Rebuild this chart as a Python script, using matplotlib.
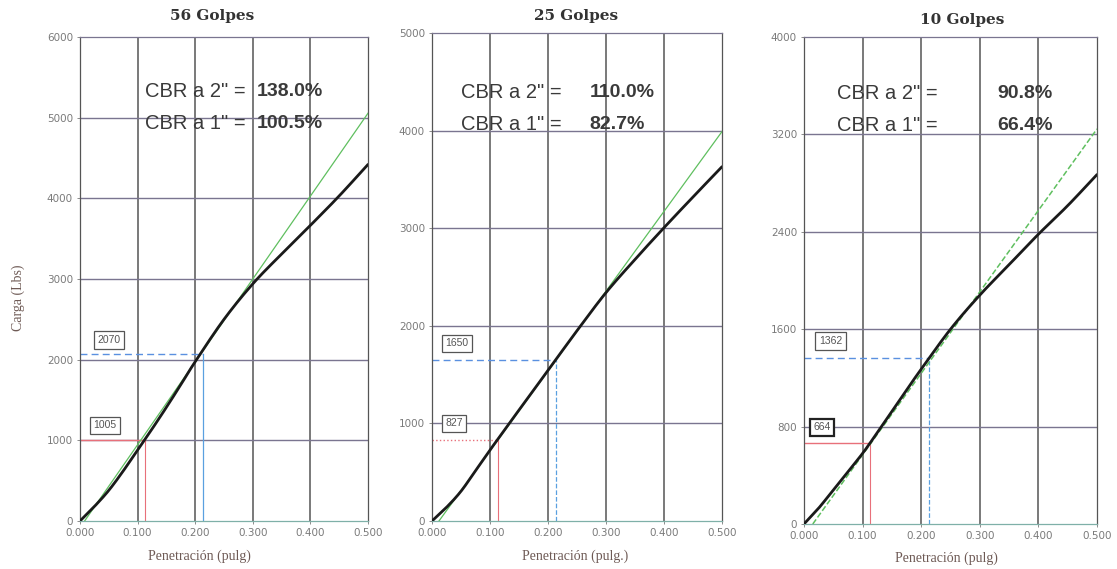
import matplotlib
matplotlib.use("Agg")
import matplotlib.pyplot as plt
import numpy as np

# ---------------- data ----------------
titles = ["56 Golpes", "25 Golpes", "10 Golpes"]
xlabels = ["Penetración (pulg)", "Penetración (pulg.)", "Penetración (pulg)"]
ylabel = "Carga (Lbs)"
x_ticks = [0.0, 0.1, 0.2, 0.3, 0.4, 0.5]
y_ticks_56 = [0, 1000, 2000, 3000, 4000, 5000, 6000]
y_ticks_25 = [0, 1000, 2000, 3000, 4000, 5000]
y_ticks_10 = [0, 800, 1600, 2400, 3200, 4000]

pen = [0.0, 0.025, 0.05, 0.075, 0.1, 0.125, 0.15, 0.175, 0.2, 0.25, 0.3, 0.35, 0.4, 0.45, 0.5]
load_56 = [0, 180, 380, 620, 880, 1140, 1410, 1690, 1975, 2500, 2940, 3310, 3665, 4030, 4420]
load_25 = [0, 140, 305, 515, 727, 932, 1137, 1340, 1543, 1950, 2340, 2680, 3005, 3320, 3630]
load_10 = [0, 130, 280, 430, 580, 750, 925, 1100, 1272, 1600, 1880, 2130, 2380, 2615, 2870]

# tangent (corrected) lines: start / end points
tan_x_56 = [0.008, 0.5]
tan_y_56 = [0, 5055]
tan_x_25 = [0.012, 0.5]
tan_y_25 = [0, 3990]
tan_x_10 = [0.015, 0.5]
tan_y_10 = [0, 3245]

pen_1 = 0.113
pen_2 = 0.213
val_1 = [1005, 827, 664]
val_2 = [2070, 1650, 1362]
cbr_2 = ["138.0%", "110.0%", "90.8%"]
cbr_1 = ["100.5%", "82.7%", "66.4%"]


def smooth(xs, ys, n=20):
    """Catmull-Rom smoothing for drawing (like Excel's smoothed line)."""
    xs = np.asarray(xs, float)
    ys = np.asarray(ys, float)
    P = np.column_stack([xs, ys])
    P = np.vstack([2 * P[0] - P[1], P, 2 * P[-1] - P[-2]])
    out = []
    t = np.linspace(0, 1, n, endpoint=False)[:, None]
    for k in range(1, len(P) - 2):
        p0, p1, p2, p3 = P[k - 1], P[k], P[k + 1], P[k + 2]
        seg = 0.5 * ((2 * p1) + (-p0 + p2) * t + (2 * p0 - 5 * p1 + 4 * p2 - p3) * t ** 2
                     + (-p0 + 3 * p1 - 3 * p2 + p3) * t ** 3)
        out.append(seg)
    out.append(P[-2][None, :])
    out = np.vstack(out)
    return out[:, 0], out[:, 1]


cbr_family = "Liberation Sans"
cbr_size = 14.5
cbr_val_size = 14

# ---------------- layout ----------------
W, H = 1117, 569
fig = plt.figure(figsize=(W / 100, H / 100), dpi=100)
fig.patch.set_facecolor("white")


def ax_rect(l, r, t, b):
    return [l / W, 1 - b / H, (r - l) / W, (b - t) / H]


rects = [ax_rect(80, 368, 37, 521), ax_rect(432, 722, 33, 521), ax_rect(804, 1097, 37, 524)]
title_xy = [(212, 16), (576, 16), (962, 20)]
xlabel_xy = [(199, 556), (575, 556), (946, 558)]
yticks_all = [y_ticks_56, y_ticks_25, y_ticks_10]
loads = [load_56, load_25, load_10]
tans = [(tan_x_56, tan_y_56), (tan_x_25, tan_y_25), (tan_x_10, tan_y_10)]
tan_styles = ["-", "-", "--"]
tan_lw = [0.9, 0.9, 1.1]

# annotation positions (data coords) — layout only
box_pos_2 = [(0.05, 2245), (0.043, 1822), (0.045, 1503)]
box_pos_1 = [(0.043, 1185), (0.038, 1000), (0.031, 795)]
txt_x = [(0.113, 0.306), (0.05, 0.272), (0.056, 0.330)]
txt_y = [(5330, 4925), (4390, 4065), (3535, 3275)]
red_h_style = ["-", ":", "-"]
blue_v_style = ["-", "--", "--"]

grid_v_col = "#555555"
grid_h_col = "#7a7590"
tick_col = "#7a7a7a"
label_col = "#6e5a55"

for i in range(3):
    ax = fig.add_axes(rects[i])
    yt = yticks_all[i]
    ax.set_xlim(0, 0.5)
    ax.set_ylim(yt[0], yt[-1])
    ax.set_xticks(x_ticks)
    ax.set_xticklabels([f"{v:.3f}" for v in x_ticks])
    ax.set_yticks(yt)
    ax.set_yticklabels([str(v) for v in yt])
    ax.tick_params(axis="both", length=2, width=0.6, colors=tick_col,
                   labelsize=7.5, pad=3)
    for lab in ax.get_xticklabels() + ax.get_yticklabels():
        lab.set_color(tick_col)
    for sp in ax.spines.values():
        sp.set_color(grid_v_col)
        sp.set_linewidth(0.9)
    ax.spines["top"].set_color(grid_h_col)
    ax.spines["bottom"].set_color("#7fb0a8")

    # grid
    for xv in x_ticks[1:-1]:
        ax.axvline(xv, color=grid_v_col, lw=1.1, zorder=1)
    for yv in yt[1:-1]:
        ax.axhline(yv, color=grid_h_col, lw=1.0, zorder=1)

    # reference lines
    ax.plot([pen_1, pen_1], [0, val_1[i]], color="#e8707a", lw=0.8, zorder=2)
    ax.plot([0, pen_1], [val_1[i], val_1[i]], color="#e8707a", lw=1.0,
            ls=red_h_style[i], zorder=2)
    ax.plot([pen_2, pen_2], [0, val_2[i]], color="#5aa0e0", lw=0.9,
            ls=blue_v_style[i], zorder=2)
    ax.plot([0, pen_2], [val_2[i], val_2[i]], color="#5a90e0", lw=1.0,
            ls="--", dashes=(5, 3), zorder=2)

    # tangent line
    tx, ty = tans[i]
    ax.plot(tx, ty, color="#5fbf5f", lw=tan_lw[i], ls=tan_styles[i], zorder=3)

    # main curve (smoothed)
    sx, sy = smooth(pen, loads[i])
    ax.plot(sx, sy, color="#1a1a1a", lw=2.0, zorder=4, solid_capstyle="round")

    # boxes
    for (bx, by), val, bold in [(box_pos_2[i], val_2[i], False),
                                (box_pos_1[i], val_1[i], i == 2)]:
        ax.text(bx, by, str(val), ha="center", va="center", fontsize=7.5,
                color="#555555", family="Liberation Sans", zorder=6,
                bbox=dict(boxstyle="square,pad=0.35", fc="white",
                          ec="#222222" if bold else "#555555",
                          lw=1.6 if bold else 0.9))

    # CBR texts
    for row, (lbl, val) in enumerate([('CBR a 2" =', cbr_2[i]), ('CBR a 1" =', cbr_1[i])]):
        ax.text(txt_x[i][0], txt_y[i][row], lbl, fontsize=cbr_size,
                color="#3a3a3a", family=cbr_family, va="center", ha="left",
                zorder=6)
        ax.text(txt_x[i][1], txt_y[i][row], val, fontsize=cbr_val_size,
                fontweight="bold", color="#3a3a3a", family=cbr_family,
                va="center", ha="left", zorder=6)

    tx_, ty_ = title_xy[i]
    fig.text(tx_ / W, 1 - ty_ / H, titles[i], fontsize=11, fontweight="bold",
             family="DejaVu Serif", color="#333333", ha="center", va="center")
    lx, ly = xlabel_xy[i]
    fig.text(lx / W, 1 - ly / H, xlabels[i], fontsize=10,
             family="Liberation Serif", color=label_col, ha="center", va="center")

fig.text(18 / W, 1 - 298 / H, ylabel, fontsize=10, family="Liberation Serif",
         color=label_col, ha="center", va="center", rotation=90)

fig.savefig("out.png", dpi=100, facecolor="white")
